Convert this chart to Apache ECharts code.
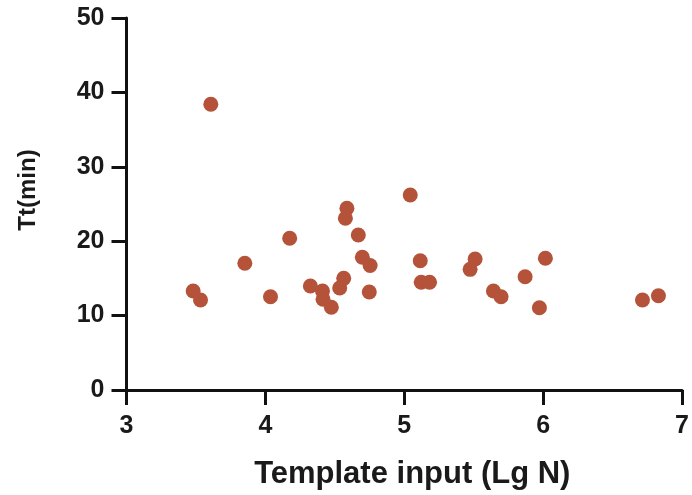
<!DOCTYPE html>
<html>
<head>
<meta charset="utf-8">
<script src="https://cdn.jsdelivr.net/npm/echarts@6/dist/echarts.min.js"></script>
<style>html,body{margin:0;padding:0;background:#fff;}#c{width:692px;height:495px;}</style>
</head>
<body>
<div id="c"></div>
<script>
var xValues = [3.480, 3.533, 3.607, 3.852, 4.037, 4.175, 4.324, 4.411, 4.415, 4.475, 4.535, 4.564, 4.587, 4.576, 4.669, 4.698, 4.754, 4.748, 5.043, 5.115, 5.122, 5.182, 5.474, 5.510, 5.642, 5.697, 5.870, 5.973, 6.016, 6.715, 6.830];
var yValues = [13.31, 12.10, 38.40, 17.03, 12.54, 20.39, 13.98, 13.31, 12.19, 11.12, 13.71, 15.01, 24.42, 23.08, 20.83, 17.84, 16.73, 13.17, 26.21, 17.38, 14.48, 14.48, 16.22, 17.61, 13.31, 12.54, 15.23, 11.06, 17.70, 12.10, 12.67];
var xTicks = [3, 4, 5, 6, 7];
var yTicks = [0, 10, 20, 30, 40, 50];
var xTitle = 'Template input (Lg N)';
var yTitle = 'Tt(min)';

var points = xValues.map(function (x, i) { return [x, yValues[i]]; });
var fontFam = '"Liberation Sans", Arial, Helvetica, sans-serif';
var chart = echarts.init(document.getElementById('c'));
chart.setOption({
  animation: false,
  grid: { left: 126.5, right: 9, top: 18, bottom: 105, containLabel: false },
  xAxis: {
    type: 'value', min: xTicks[0], max: xTicks[xTicks.length - 1], interval: 1,
    name: xTitle, nameLocation: 'middle', nameGap: 69,
    nameTextStyle: { fontFamily: fontFam, fontWeight: 'bold', fontSize: 31, color: '#1a1a1a', padding: [0, 0, 0, 16] },
    axisLine: { lineStyle: { color: '#111', width: 3 } },
    axisTick: { length: 15, lineStyle: { color: '#111', width: 3 } },
    axisLabel: { margin: 24, fontFamily: fontFam, fontWeight: 'bold', fontSize: 25, color: '#1a1a1a' },
    splitLine: { show: false }
  },
  yAxis: {
    type: 'value', min: yTicks[0], max: yTicks[yTicks.length - 1], interval: 10,
    name: yTitle, nameLocation: 'middle', nameGap: 86, nameRotate: 90,
    nameTextStyle: { fontFamily: fontFam, fontWeight: 'bold', fontSize: 24, color: '#1a1a1a', padding: [0, 0, 0, 28] },
    axisLine: { show: true, lineStyle: { color: '#111', width: 3 } },
    axisTick: { show: true, length: 15, lineStyle: { color: '#111', width: 3 } },
    axisLabel: { margin: 22, fontFamily: fontFam, fontWeight: 'bold', fontSize: 25, color: '#1a1a1a' },
    splitLine: { show: false }
  },
  series: [{
    type: 'scatter',
    data: points,
    symbolSize: 15,
    itemStyle: { color: '#b5533a', opacity: 1 }
  }]
});
</script>
</body>
</html>
